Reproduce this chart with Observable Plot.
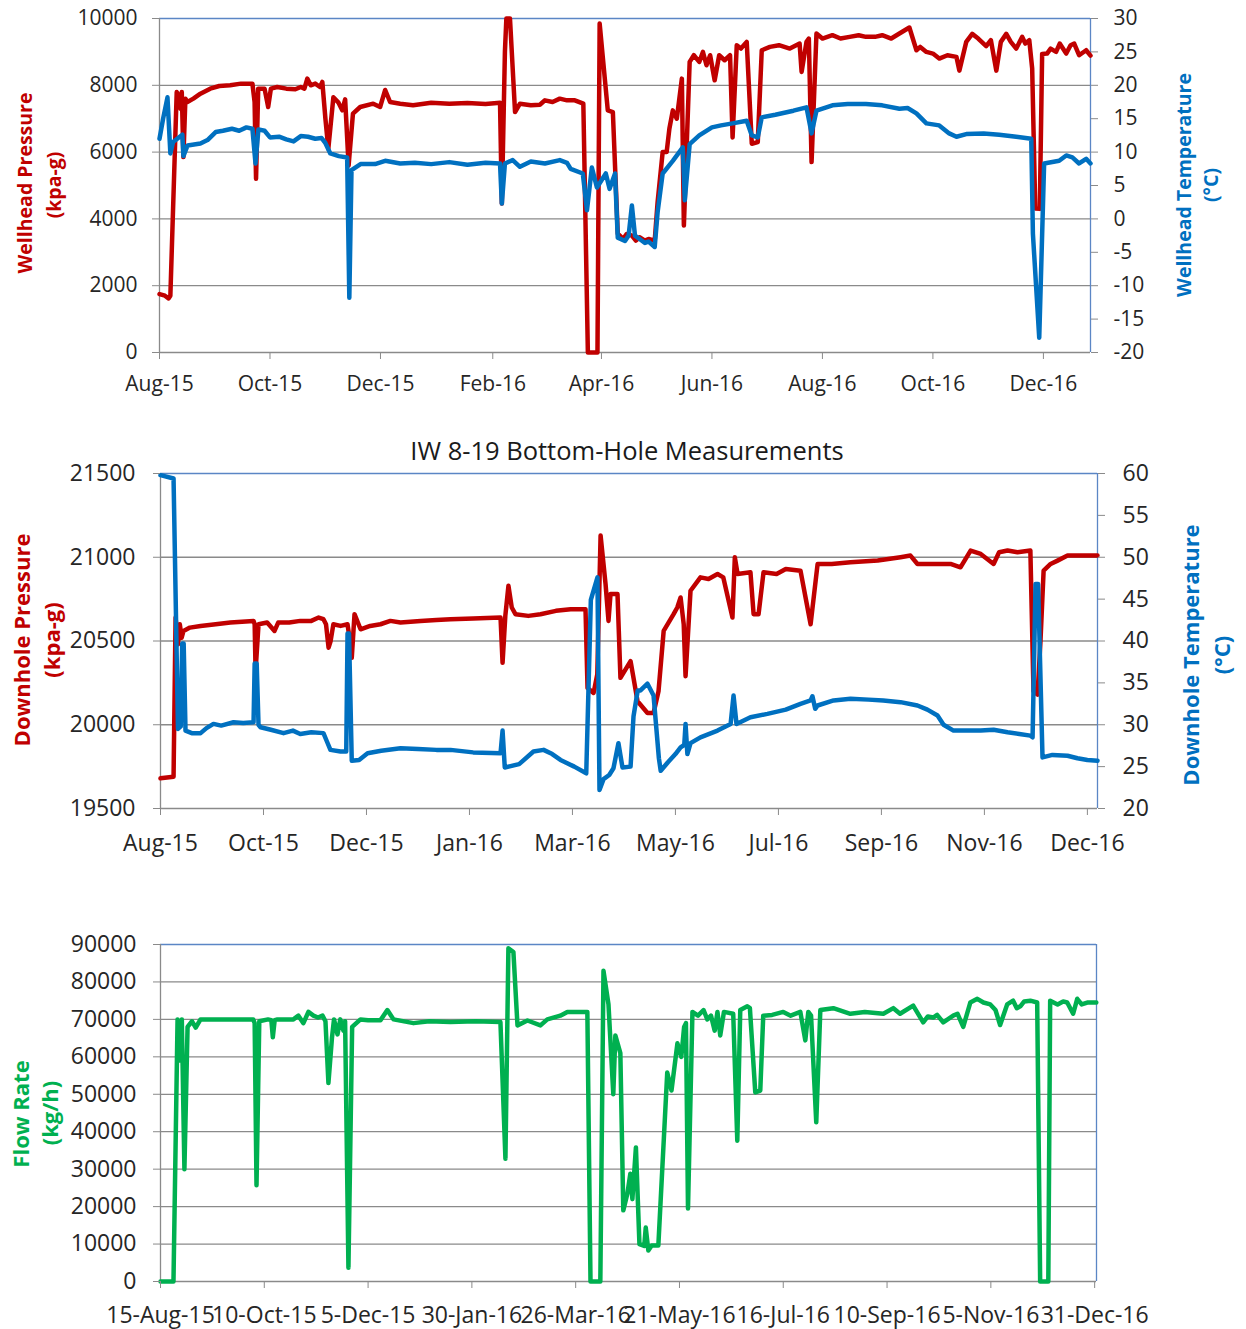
<!DOCTYPE html>
<html>
<head>
<meta charset="utf-8">
<script src="https://cdn.jsdelivr.net/npm/d3@7"></script>
<script src="https://cdn.jsdelivr.net/npm/@observablehq/plot@0.6"></script>
<style>
  html, body { margin: 0; padding: 0; background: #ffffff; }
  #wrap { position: relative; width: 1246px; height: 1329px; overflow: hidden; background: #ffffff; }
  #wrap > svg { position: absolute; left: 0; }
</style>
</head>
<body>
<div id="wrap"></div>
<script>
// ---------------- DATA (x = days since 15-Aug-2015) ----------------
const wellheadTickDates = ["2015-08-15","2015-10-15","2015-12-15","2016-02-15","2016-04-15","2016-06-15","2016-08-15","2016-10-15","2016-12-15"];
const wellheadTickLabels = ["Aug-15","Oct-15","Dec-15","Feb-16","Apr-16","Jun-16","Aug-16","Oct-16","Dec-16"];
const wellheadPressureTicks = [0, 2000, 4000, 6000, 8000, 10000];
const wellheadTempTicks = [-20, -15, -10, -5, 0, 5, 10, 15, 20, 25, 30];

const bottomTickDates = ["2015-08-15","2015-10-10","2015-12-05","2016-01-30","2016-03-26","2016-05-21","2016-07-16","2016-09-10","2016-11-05","2016-12-31"];
const downholeTickLabels = ["Aug-15","Oct-15","Dec-15","Jan-16","Mar-16","May-16","Jul-16","Sep-16","Nov-16","Dec-16"];
const flowTickLabels = ["15-Aug-15","10-Oct-15","5-Dec-15","30-Jan-16","26-Mar-16","21-May-16","16-Jul-16","10-Sep-16","5-Nov-16","31-Dec-16"];
const downholePressureTicks = [19500, 20000, 20500, 21000, 21500];
const downholeTempTicks = [20, 25, 30, 35, 40, 45, 50, 55, 60];
const flowTicks = [0, 10000, 20000, 30000, 40000, 50000, 60000, 70000, 80000, 90000];

const wellheadPressure = [[0,1750],[3,1700],[5,1620],[6,1700],[9.5,7800],[10.5,7700],[11.6,7300],[12.3,7800],[13.2,5850],[14.3,7600],[15.4,7500],[18.7,7600],[22.6,7750],[28,7900],[33,7980],[39,8000],[45,8050],[51.3,8050],[52.5,7500],[53.3,5200],[54.5,7900],[58,7900],[60,7350],[61.5,7900],[65,7950],[70,7900],[75,7880],[78,7950],[80,7900],[81.6,8200],[83.5,8000],[86,8050],[88.6,7950],[89.9,8100],[91.6,7000],[93.2,6100],[96,7640],[98.7,7490],[100.9,7250],[102.5,7580],[104.4,5600],[106.8,7150],[110.8,7350],[118,7450],[121.8,7350],[124.6,7860],[127.3,7500],[132.9,7450],[140,7400],[150,7480],[160,7450],[170,7470],[180,7440],[188,7480],[189,4460],[190.7,9000],[191.5,10000],[193.5,10000],[196.3,7200],[199,7450],[205,7400],[210,7420],[212.8,7550],[217,7500],[221,7600],[225,7550],[229.3,7550],[234,7450],[236.5,0],[241.8,0],[243,9850],[247.5,7250],[250.3,7200],[253,3560],[256,3400],[258,3550],[260.8,3500],[263,3350],[265,3450],[268,3350],[270,3400],[273.4,3350],[275,4500],[277.8,6000],[280,6000],[281.5,6700],[283.4,7250],[285.6,7000],[288.4,8200],[289.5,3800],[292.7,8700],[295,8900],[298,8700],[300,9000],[302,8600],[304,8900],[306.5,8150],[309,8900],[312,8750],[315,8900],[316.4,6440],[318.7,9200],[321,9100],[324.2,9300],[327,6250],[330.3,6300],[332.5,9050],[337,9150],[342,9200],[348,9100],[353.4,9250],[354.5,8400],[357.2,9300],[358.5,9400],[360,5700],[362.7,9550],[366,9400],[371.5,9500],[376,9400],[381,9450],[386,9500],[390,9450],[395,9450],[399,9500],[404,9400],[408.5,9550],[414,9730],[417.9,9050],[420,9150],[423.4,9000],[427,8950],[430.5,8800],[435,8900],[440,8850],[441.6,8440],[445.4,9300],[448.7,9540],[452,9400],[456.4,9170],[459,9350],[462,8440],[464.5,9300],[467.5,9540],[470,9300],[473,9100],[476.3,9450],[478,9250],[480.2,9350],[481.8,8500],[483.5,4310],[486,4300],[487.3,8940],[490,8950],[492,9100],[495,9000],[497,9250],[500.6,8950],[503,9200],[505,9250],[507.7,8900],[511.6,9050],[514,8890]];

const wellheadTemperature = [[0,12],[2,15],[4.4,18.2],[6,9.8],[7.5,11.5],[12.6,12.6],[13.2,9.4],[15.5,11],[22.6,11.3],[26.5,11.8],[31,13],[35,13.2],[40,13.5],[44,13.2],[48,13.7],[51.3,13.5],[53,8.3],[54.6,13.4],[58,13.2],[61,12.2],[66,12.3],[70,11.9],[74,11.6],[78,12.4],[82,12.3],[86,12.0],[89.5,12.1],[91.5,11.4],[94.3,9.8],[99,9.4],[103.6,9.2],[104.8,-11.8],[106,7.3],[111,8.2],[119,8.2],[124.6,8.7],[132.9,8.3],[141,8.4],[150,8.2],[160,8.5],[170,8.1],[180,8.4],[188,8.3],[189,2.3],[190.7,8.3],[195,8.8],[199,7.8],[205,8.6],[212.8,8.3],[221,8.8],[225,8.4],[227,7.5],[233.7,6.8],[236,1.3],[238.7,7.7],[241.5,4.7],[246.4,6.8],[248.5,4.5],[251.5,6.8],[253,-2.8],[257,-3.3],[259,-2.5],[260.8,2.0],[262.5,-2.5],[266,-3.2],[268,-3.6],[270,-3.4],[273.4,-4.2],[275,1],[277.8,6.8],[283.4,8.7],[288.9,10.7],[290,2.8],[292.7,11.2],[298,12.5],[305,13.7],[310,14],[316.4,14.3],[324.2,14.7],[327,12.5],[330.3,12.2],[332.5,15.2],[340,15.6],[350,16.2],[357.2,16.7],[360,12.8],[362.7,16.2],[371.5,17],[380,17.2],[390,17.2],[399,17],[408.5,16.5],[413,16.6],[417.9,15.8],[423.4,14.3],[430.5,14],[436,12.8],[440,12.3],[445.4,12.7],[455,12.8],[463.6,12.6],[473,12.3],[481.3,12],[482.2,-2.2],[485.7,-17.8],[488.4,8.3],[496.7,8.7],[500.6,9.5],[504,9.2],[507.7,8.3],[511.6,9],[514,8.3]];

const downholePressure = [[0,19680],[7.1,19690],[8.2,20640],[9.5,20480],[10.5,20600],[11.5,20520],[12.5,20560],[16,20580],[21.8,20590],[30,20600],[38,20610],[50.6,20620],[51.2,20600],[51.7,20320],[53.3,20600],[58,20610],[62,20560],[64,20610],[70,20610],[76,20620],[82,20620],[86,20640],[88.6,20630],[90,20600],[91.4,20460],[92.5,20500],[94,20600],[97.9,20590],[101.7,20600],[103,20500],[104,20400],[105.5,20660],[108.8,20570],[114,20590],[119.6,20600],[125,20620],[130.5,20610],[141.4,20620],[150,20625],[157.7,20630],[170,20635],[184.9,20640],[186,20370],[187.5,20650],[189.2,20830],[191,20700],[193,20660],[200,20650],[206.6,20660],[215,20680],[223,20690],[231.1,20690],[232.2,20220],[235.5,20190],[237.5,20300],[239.3,21130],[242,20840],[243.6,20620],[244.7,20780],[248.5,20780],[250.1,20280],[255.6,20380],[257.2,20280],[259.4,20140],[264.8,20070],[268.1,20070],[270.8,20200],[273.6,20560],[279,20660],[281,20700],[282.8,20760],[284.5,20600],[285.5,20290],[288.2,20800],[293.6,20880],[298,20870],[302.9,20900],[306,20880],[311,20640],[312.3,21000],[313.8,20900],[320.8,20910],[322.5,20660],[325.2,20660],[327.9,20910],[335,20900],[340,20930],[348,20920],[353.5,20600],[357.3,20960],[365,20960],[375.2,20970],[390,20980],[402.4,21000],[407.8,21010],[411.6,20960],[420,20960],[429.6,20960],[435,20940],[440.5,21040],[446,21020],[453,20960],[456,21030],[460.6,21040],[466,21030],[473,21040],[474.7,20200],[476.9,20180],[478.5,20500],[480.2,20920],[484,20960],[487.8,20980],[493.2,21010],[509.5,21010]];

const downholeTemperature = [[0,59.8],[7.1,59.4],[9.5,29.5],[11,29.8],[11.8,39.7],[12.6,39.7],[13.6,29.3],[17,29],[21.8,29],[25,29.6],[28.8,30.1],[33,29.9],[39.7,30.3],[45,30.2],[50.6,30.3],[51.2,37.3],[52.3,37.3],[53.3,30],[54.4,29.7],[60,29.4],[66.9,29],[72,29.3],[76,28.9],[82,29.1],[88.6,29],[90.5,28],[92.4,27],[97.9,26.8],[101,26.8],[101.7,40.9],[102.5,40.9],[104,25.7],[108,25.8],[112.6,26.6],[120,26.9],[130.5,27.2],[140,27.1],[150,27],[157.7,27],[170,26.7],[184.9,26.6],[186,29.3],[187.2,24.9],[195,25.3],[202.8,26.8],[208.3,27],[213,26.5],[217.5,25.8],[225,25],[231.5,24.2],[234,44.9],[237.6,47.6],[238.7,22.2],[240.9,23.5],[244,24],[246.3,24.8],[249,27.8],[251.2,24.9],[255.6,25],[257.2,31],[259.5,34.1],[261,34.1],[264.8,34.9],[268.1,33.5],[271,26],[272,24.5],[275.8,25.5],[280,26.5],[282.8,27.3],[284.8,27.6],[285.5,30.1],[286.5,26.5],[288.2,27.8],[293.6,28.5],[302.9,29.3],[310,30.1],[311.6,33.5],[313.2,30.1],[320.8,30.9],[330,31.3],[340,31.8],[348,32.5],[353.5,32.9],[354.5,33.4],[356,31.9],[357.3,32.3],[366,32.9],[375.2,33.1],[385,33],[393,32.9],[402.4,32.7],[411.6,32.3],[417,31.8],[422.5,31.1],[425.8,30],[431.2,29.3],[438.8,29.3],[446,29.3],[453,29.4],[460.6,29.1],[467,28.9],[473,28.7],[474.2,28.5],[475.8,46.8],[477.2,46.8],[479.6,26.1],[485,26.4],[493.2,26.3],[498.6,26],[504,25.8],[509.5,25.7]];

const flowRate = [[0,0],[7,0],[9.2,70000],[10.3,59000],[11.5,70000],[12.9,30000],[14.6,68000],[17,69500],[19,67800],[21.6,70000],[30,70000],[40,70000],[50,70000],[50.8,69000],[51.8,25700],[53.3,69500],[58,70000],[59.8,69800],[60.6,65200],[61.6,69800],[63.1,70000],[71.7,70000],[74.4,71000],[77.1,69000],[79.8,72000],[82.5,71000],[85,70500],[87.4,71000],[89,69500],[90.6,53000],[92.5,65000],[93.6,70000],[95.5,66000],[97,70000],[98.7,67000],[99.6,69500],[101.4,3700],[103.4,68000],[107.9,70000],[112,69800],[118.7,69800],[122.4,72500],[125.7,70000],[136.5,69000],[145,69500],[156.4,69300],[170,69500],[183.4,69300],[186.1,32800],[187.7,89000],[190.4,88000],[192.6,68400],[198,69700],[205,68400],[208.7,70000],[215.7,71000],[219.5,72000],[230.3,72000],[232,0],[237.3,0],[239,83000],[241.7,74000],[244.3,50000],[245.4,65700],[248.1,61000],[249.7,19000],[251.9,23500],[253.5,28800],[254.6,22000],[256.5,35800],[258.4,10000],[261,9500],[261.8,14400],[263.2,8300],[265,9600],[268.6,9600],[273.4,55800],[275.7,51000],[278.9,63600],[281,60000],[282.5,68000],[283.5,69000],[284.6,19500],[287,72000],[290,71000],[293,72500],[295,70000],[297,71000],[299,67000],[300.5,72000],[302,65700],[304,72000],[309,71500],[311.2,37600],[312.8,72500],[316.6,73500],[318,73000],[320.9,50500],[323.6,51000],[325.2,71000],[330,71200],[336,72000],[340,71000],[345.2,72000],[347.9,64400],[349.5,72000],[351,71000],[353.8,42500],[356,72500],[363,73000],[372.2,71500],[380,72000],[390,71500],[395.4,73000],[399,71500],[406.1,73700],[411.5,69200],[414,70800],[416.9,70500],[419,71200],[422.3,69200],[427.7,71000],[430,71500],[433.1,68000],[436.9,74500],[440.7,75500],[444,74500],[447.7,74000],[450.5,72500],[453,68500],[456.8,74000],[460,75000],[462,73000],[463.9,73500],[466,74800],[469.3,75000],[473,74500],[474.6,0],[479,0],[480,75000],[484,74000],[487,74800],[489.2,74500],[492.4,71500],[494.6,75500],[497,74000],[500,74500],[504.9,74500]];

// ---------------- HELPERS ----------------
const FONT = "'Open Sans', 'DejaVu Sans', sans-serif";
const RED = "#c00000", BLUE = "#0070c0", GREEN = "#00b050";
const GRID = "#8a8a8a", FRAME = "#5b86c5", TEXT = "#262626";
const LW = 4.5;
const START = Date.UTC(2015, 7, 15);
const toDate = d => new Date(START + d * 864e5);
const rows = arr => arr.map(([d, v]) => ({date: toDate(d), v}));
const parse = s => new Date(s + "T00:00:00Z");
const fmtInt = d3.format("d");
const wrap = document.getElementById("wrap");

function labelMap(dates, labels) {
  const m = new Map();
  dates.forEach((s, i) => m.set(+parse(s), labels[i]));
  return d => m.get(+d);
}

function addRotated(svg, x, y, text, color, size) {
  d3.select(svg).append("text")
    .attr("transform", `translate(${x},${y}) rotate(-90)`)
    .attr("text-anchor", "middle")
    .attr("fill", color)
    .attr("font-weight", "bold")
    .attr("font-size", size)
    .attr("font-family", FONT)
    .text(text);
}

function place(svg, top) {
  svg.style.top = top + "px";
  wrap.appendChild(svg);
}

// ---------------- PANEL 1: Wellhead ----------------
{
  const xEnd = 514;
  const t2p = t => (t + 20) * 200;
  const p2t = p => Math.round(p / 200 - 20);
  const svg = Plot.plot({
    width: 1246, height: 400,
    marginTop: 18, marginBottom: 48, marginLeft: 159, marginRight: 156,
    style: {fontFamily: FONT, fontSize: "21px", background: "transparent", overflow: "visible"},
    x: {type: "utc", domain: [toDate(0), toDate(xEnd)], axis: null, label: null},
    y: {domain: [0, 10000], axis: null, label: null},
    marks: [
      Plot.ruleY(wellheadPressureTicks.slice(1, -1), {stroke: GRID, strokeWidth: 1.3}),
      Plot.ruleY([10000], {stroke: FRAME, strokeWidth: 1.3}),
      Plot.ruleX([toDate(xEnd)], {stroke: FRAME, strokeWidth: 1.3}),
      Plot.ruleX([toDate(0)], {stroke: GRID, strokeWidth: 1.3}),
      Plot.ruleY([0], {stroke: GRID, strokeWidth: 1.3}),
      Plot.line(rows(wellheadPressure), {x: "date", y: "v", stroke: RED, strokeWidth: LW, strokeLinejoin: "round"}),
      Plot.line(rows(wellheadTemperature), {x: "date", y: d => t2p(d.v), stroke: BLUE, strokeWidth: LW, strokeLinejoin: "round"}),
      Plot.axisX(wellheadTickDates.map(parse), {tickFormat: labelMap(wellheadTickDates, wellheadTickLabels), tickSize: 7, tickPadding: 17, stroke: GRID, fill: TEXT, fontSize: 21, label: null}),
      Plot.axisY(wellheadPressureTicks, {anchor: "left", tickFormat: fmtInt, tickSize: 7, tickPadding: 15, stroke: GRID, fill: TEXT, fontSize: 21, label: null}),
      Plot.axisY(wellheadTempTicks.map(t2p), {anchor: "right", tickFormat: p => String(p2t(p)), tickSize: 7, tickPadding: 16, stroke: GRID, fill: TEXT, fontSize: 21, label: null})
    ]
  });
  addRotated(svg, 32, 183, "Wellhead Pressure", RED, 19.5);
  addRotated(svg, 61, 185, "(kpa-g)", RED, 19.5);
  addRotated(svg, 1191, 185, "Wellhead Temperature", BLUE, 19.5);
  addRotated(svg, 1218, 185, "(°C)", BLUE, 19.5);
  place(svg, 0);
}

// ---------------- PANEL 2: Downhole ----------------
{
  const xEnd = 509.5;
  const top = 425;
  const t2p = t => 19500 + (t - 20) * 50;
  const p2t = p => Math.round((p - 19500) / 50 + 20);
  const svg = Plot.plot({
    width: 1246, height: 450,
    marginTop: 48, marginBottom: 67, marginLeft: 160, marginRight: 149,
    style: {fontFamily: FONT, fontSize: "23px", background: "transparent", overflow: "visible"},
    x: {type: "utc", domain: [toDate(0), toDate(xEnd)], axis: null, label: null},
    y: {domain: [19500, 21500], axis: null, label: null},
    marks: [
      Plot.ruleY(downholePressureTicks.slice(1, -1), {stroke: GRID, strokeWidth: 1.3}),
      Plot.ruleY([21500], {stroke: FRAME, strokeWidth: 1.3}),
      Plot.ruleX([toDate(xEnd)], {stroke: FRAME, strokeWidth: 1.3}),
      Plot.ruleX([toDate(0)], {stroke: GRID, strokeWidth: 1.3}),
      Plot.ruleY([19500], {stroke: GRID, strokeWidth: 1.3}),
      Plot.line(rows(downholePressure), {x: "date", y: "v", stroke: RED, strokeWidth: LW, strokeLinejoin: "round"}),
      Plot.line(rows(downholeTemperature), {x: "date", y: d => t2p(d.v), stroke: BLUE, strokeWidth: LW, strokeLinejoin: "round"}),
      Plot.axisX(bottomTickDates.map(parse), {tickFormat: labelMap(bottomTickDates, downholeTickLabels), tickSize: 7, tickPadding: 19, stroke: GRID, fill: TEXT, fontSize: 23, label: null}),
      Plot.axisY(downholePressureTicks, {anchor: "left", tickFormat: fmtInt, tickSize: 7, tickPadding: 18, stroke: GRID, fill: TEXT, fontSize: 23, label: null}),
      Plot.axisY(downholeTempTicks.map(t2p), {anchor: "right", tickFormat: p => String(p2t(p)), tickSize: 7, tickPadding: 18, stroke: GRID, fill: TEXT, fontSize: 23, label: null})
    ]
  });
  d3.select(svg).append("text")
    .attr("x", 627).attr("y", 28)
    .attr("text-anchor", "middle").attr("dominant-baseline", "middle")
    .attr("fill", "#1a1a1a").attr("font-size", 25.5).attr("font-family", FONT)
    .text("IW 8-19 Bottom-Hole Measurements");
  addRotated(svg, 30, 215, "Downhole Pressure", RED, 22);
  addRotated(svg, 60, 215, "(kpa-g)", RED, 22);
  addRotated(svg, 1199, 230, "Downhole Temperature", BLUE, 22);
  addRotated(svg, 1230, 230, "(°C)", BLUE, 22);
  place(svg, top);
}

// ---------------- PANEL 3: Flow ----------------
{
  const xEnd = 505;
  const top = 900;
  const svg = Plot.plot({
    width: 1246, height: 429,
    marginTop: 44, marginBottom: 48, marginLeft: 160, marginRight: 150,
    style: {fontFamily: FONT, fontSize: "23px", background: "transparent", overflow: "visible"},
    x: {type: "utc", domain: [toDate(0), toDate(xEnd)], axis: null, label: null},
    y: {domain: [0, 90000], axis: null, label: null},
    marks: [
      Plot.ruleY(flowTicks.slice(1, -1), {stroke: GRID, strokeWidth: 1.3}),
      Plot.ruleY([90000], {stroke: FRAME, strokeWidth: 1.3}),
      Plot.ruleX([toDate(xEnd)], {stroke: FRAME, strokeWidth: 1.3}),
      Plot.ruleX([toDate(0)], {stroke: GRID, strokeWidth: 1.3}),
      Plot.ruleY([0], {stroke: GRID, strokeWidth: 1.3}),
      Plot.line(rows(flowRate), {x: "date", y: "v", stroke: GREEN, strokeWidth: LW, strokeLinejoin: "round"}),
      Plot.axisX(bottomTickDates.map(parse), {tickFormat: labelMap(bottomTickDates, flowTickLabels), tickSize: 7, tickPadding: 18, stroke: GRID, fill: TEXT, fontSize: 23, label: null}),
      Plot.axisY(flowTicks, {anchor: "left", tickFormat: fmtInt, tickSize: 7, tickPadding: 17, stroke: GRID, fill: TEXT, fontSize: 23, label: null})
    ]
  });
  addRotated(svg, 29, 214, "Flow Rate", GREEN, 22);
  addRotated(svg, 58, 213, "(kg/h)", GREEN, 22);
  place(svg, top);
}
</script>
</body>
</html>
